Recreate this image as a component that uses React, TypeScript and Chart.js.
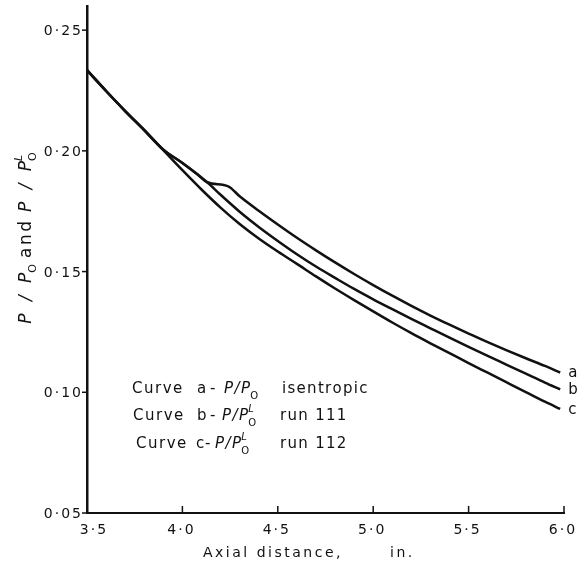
import React, { useEffect, useRef } from "react";
import { Chart, registerables } from "chart.js";

Chart.register(...registerables);

// ---- data ----
const xTicks = [3.5, 4.0, 4.5, 5.0, 5.5, 6.0];
const xTickLabels = ["3·5", "4·0", "4·5", "5·0", "5·5", "6·0"];
const yTicks = [0.05, 0.1, 0.15, 0.2, 0.25];
const yTickLabels = ["0·05", "0·10", "0·15", "0·20", "0·25"];

const xA = [3.5, 3.6, 3.7, 3.8, 3.9, 4.0, 4.08, 4.13, 4.24, 4.3, 4.4, 4.5, 4.6, 4.7, 4.8, 4.9, 5.0, 5.1, 5.2, 5.3, 5.4, 5.5, 5.6, 5.7, 5.8, 5.9, 5.98];
const yA = [0.2334, 0.2248, 0.2165, 0.2086, 0.2005, 0.195, 0.1902, 0.187, 0.1853, 0.1812, 0.1752, 0.1695, 0.164, 0.1588, 0.1538, 0.149, 0.1444, 0.14, 0.1358, 0.1318, 0.128, 0.1243, 0.1208, 0.1174, 0.1141, 0.1109, 0.1082];

const xB = [3.5, 3.6, 3.7, 3.8, 3.9, 4.0, 4.08, 4.13, 4.2, 4.3, 4.4, 4.5, 4.6, 4.7, 4.8, 4.9, 5.0, 5.1, 5.2, 5.3, 5.4, 5.5, 5.6, 5.7, 5.8, 5.9, 5.98];
const yB = [0.2334, 0.2248, 0.2165, 0.2086, 0.2005, 0.195, 0.1902, 0.187, 0.1818, 0.1748, 0.1685, 0.1627, 0.1572, 0.1521, 0.1474, 0.1428, 0.1385, 0.1344, 0.1304, 0.1265, 0.1226, 0.1188, 0.1151, 0.1114, 0.1077, 0.104, 0.1012];

const xC = [3.5, 3.6, 3.7, 3.8, 3.9, 4.0, 4.1, 4.2, 4.3, 4.4, 4.5, 4.6, 4.7, 4.8, 4.9, 5.0, 5.1, 5.2, 5.3, 5.4, 5.5, 5.6, 5.7, 5.8, 5.9, 5.98];
const yC = [0.2334, 0.2248, 0.2165, 0.2086, 0.2003, 0.192, 0.184, 0.1765, 0.1697, 0.1637, 0.1583, 0.1532, 0.148, 0.143, 0.1382, 0.1335, 0.1289, 0.1245, 0.1203, 0.1162, 0.1121, 0.1081, 0.1041, 0.1001, 0.0961, 0.0931];

const curveLetters = ["a", "b", "c"];

const FONT = '"DejaVu Sans", sans-serif';
const INK = "#111";

type Run = { t: string; f: string; dy?: number; sp?: number; stack?: boolean; gap?: number };

function spaced(ctx: CanvasRenderingContext2D, text: string, x: number, y: number, sp: number, draw = true): number {
  let cx = x;
  const chars = [...text];
  chars.forEach((ch, i) => {
    if (draw) ctx.fillText(ch, cx, y);
    cx += ctx.measureText(ch).width + (i < chars.length - 1 ? sp : 0);
  });
  return cx;
}

function runs(ctx: CanvasRenderingContext2D, rs: Run[], x: number, y: number, draw = true): number {
  let cx = x;
  let prevStart = x;
  for (const r of rs) {
    ctx.font = r.f;
    const start = r.stack ? prevStart : cx;
    const end = spaced(ctx, r.t, start, y + (r.dy || 0), r.sp || 0, draw);
    if (!r.stack) {
      prevStart = start;
      cx = end + (r.gap || 0);
    } else {
      cx = Math.max(cx, end + (r.gap || 0));
    }
  }
  return cx;
}

function spacedAligned(ctx: CanvasRenderingContext2D, text: string, x: number, y: number, sp: number, align: string) {
  const w = spaced(ctx, text, 0, 0, sp, false);
  const sx = align === "center" ? x - w / 2 : align === "right" ? x - w : x;
  spaced(ctx, text, sx, y, sp, true);
}

const decor = {
  id: "decor",
  afterDraw(chart: any) {
    const ctx: CanvasRenderingContext2D = chart.ctx;
    const xs = chart.scales.x;
    const ys = chart.scales.y;
    const area = chart.chartArea;
    ctx.save();
    ctx.fillStyle = INK;
    ctx.strokeStyle = INK;
    ctx.textAlign = "left";
    ctx.textBaseline = "alphabetic";

    // y ticks (outward) + labels
    ctx.lineWidth = 1.5;
    ctx.font = `14px ${FONT}`;
    yTicks.forEach((v, i) => {
      const py = ys.getPixelForValue(v);
      ctx.beginPath();
      ctx.moveTo(area.left - 5, py);
      ctx.lineTo(area.left, py);
      ctx.stroke();
      spacedAligned(ctx, yTickLabels[i], area.left - 6, py + 5, 2, "right");
    });

    // x ticks (inward) + labels
    xTicks.forEach((v, i) => {
      const px = xs.getPixelForValue(v);
      if (i > 0) {
        ctx.beginPath();
        ctx.moveTo(px, area.bottom);
        ctx.lineTo(px, area.bottom - 7);
        ctx.stroke();
      }
      ctx.font = `14px ${FONT}`;
      spacedAligned(ctx, xTickLabels[i], px + (i === 0 ? 6 : -2), area.bottom + 21, 2, "center");
    });

    // x title
    ctx.font = `14px ${FONT}`;
    spaced(ctx, "Axial distance,", 203, 557, 2.5);
    spaced(ctx, "in.", 390, 557, 2.5);

    // y title (rotated)
    const it17 = `italic 17px ${FONT}`;
    const n17 = `17px ${FONT}`;
    const s11 = `11px ${FONT}`;
    const si11 = `italic 11px ${FONT}`;
    const yTitle: Run[] = [
      { t: "P / P", f: it17, sp: 3.5 },
      { t: "O", f: s11, dy: 5, gap: 6 },
      { t: "and", f: n17, sp: 2.5, gap: 9 },
      { t: "P / P", f: it17, sp: 3.5 },
      { t: "L", f: si11, dy: -9 },
      { t: "O", f: s11, dy: 5, stack: true },
    ];
    ctx.save();
    ctx.translate(25, 238);
    ctx.rotate(-Math.PI / 2);
    const w = runs(ctx, yTitle, 0, 0, false);
    runs(ctx, yTitle, -w / 2, 6, true);
    ctx.restore();

    // legend text
    const n15 = `15px ${FONT}`;
    const it15 = `italic 15px ${FONT}`;
    const s10 = `10px ${FONT}`;
    const si10 = `italic 10px ${FONT}`;
    const lines = [
      { y: 393, x0: 132, letter: "a", lx: 197, dx: 210, rx: 224, sup: false, desc: "isentropic", descX: 282 },
      { y: 420, x0: 133, letter: "b", lx: 197, dx: 210, rx: 222, sup: true, desc: "run 111", descX: 280 },
      { y: 448, x0: 136, letter: "c", lx: 196, dx: 205, rx: 215, sup: true, desc: "run 112", descX: 280 },
    ];
    lines.forEach((ln) => {
      ctx.font = n15;
      spaced(ctx, "Curve", ln.x0, ln.y, 1.5);
      spaced(ctx, ln.letter, ln.lx, ln.y, 0);
      spaced(ctx, "-", ln.dx, ln.y, 0);
      const r: Run[] = [{ t: "P/P", f: it15, sp: 1.5 }];
      if (ln.sup) {
        r.push({ t: "L", f: si10, dy: -8 });
        r.push({ t: "O", f: s10, dy: 6, stack: true });
      } else {
        r.push({ t: "O", f: s10, dy: 6 });
      }
      runs(ctx, r, ln.rx, ln.y, true);
      ctx.font = n15;
      spaced(ctx, ln.desc, ln.descX, ln.y, 1.3);
    });

    // curve end letters
    ctx.font = n15;
    chart.data.datasets.forEach((ds: any, i: number) => {
      const last = ds.data[ds.data.length - 1];
      const px = xs.getPixelForValue(last.x);
      const py = ys.getPixelForValue(last.y);
      ctx.fillText(curveLetters[i], px + 8, py + 5);
    });

    ctx.restore();
  },
};

function pts(xsArr: number[], ysArr: number[]) {
  return xsArr.map((x, i) => ({ x, y: ysArr[i] }));
}

export default function App() {
  const ref = useRef<HTMLCanvasElement>(null);
  useEffect(() => {
    const line = (data: { x: number; y: number }[]) => ({
      data,
      borderColor: INK,
      borderWidth: 2.5,
      pointRadius: 0,
      fill: false,
      cubicInterpolationMode: "monotone" as const,
    });
    const chart = new Chart(ref.current!, {
      type: "line",
      data: {
        datasets: [line(pts(xA, yA)), line(pts(xB, yB)), line(pts(xC, yC))],
      },
      options: {
        animation: false,
        responsive: true,
        maintainAspectRatio: false,
        layout: { padding: { top: 6, right: 23, left: 0, bottom: 0 } },
        plugins: { legend: { display: false }, tooltip: { enabled: false } },
        scales: {
          x: {
            type: "linear",
            min: 3.5,
            max: 6.0,
            grid: { display: false },
            border: { display: true, color: INK, width: 2 },
            ticks: { display: false },
            afterFit: (s: any) => {
              s.height = 55;
            },
          },
          y: {
            type: "linear",
            min: 0.05,
            max: 0.26,
            grid: { display: false },
            border: { display: true, color: INK, width: 2.5 },
            ticks: { display: false },
            afterFit: (s: any) => {
              s.width = 87;
            },
          },
        },
      },
      plugins: [decor],
    });
    return () => chart.destroy();
  }, []);
  return (
    <div style={{ position: "absolute", left: 0, top: 0, width: 587, height: 568, background: "#fff" }}>
      <canvas ref={ref} />
    </div>
  );
}
